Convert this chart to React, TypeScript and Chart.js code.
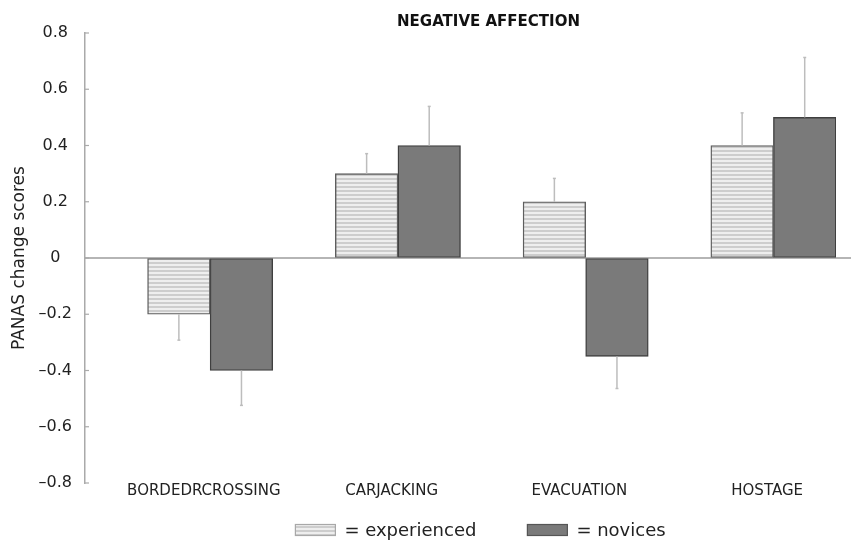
import { useEffect, useRef } from 'react';
import { Chart, registerables } from 'chart.js';

Chart.register(...registerables);

const FONT = 'DejaVu Sans';

const categories = ['BORDEDRCROSSING', 'CARJACKING', 'EVACUATION', 'HOSTAGE'];
const seriesNames = ['= experienced', '= novices'];
const experienced = [-0.2, 0.3, 0.2, 0.4];
const novices = [-0.4, 0.4, -0.35, 0.5];
const experiencedErr = [0.092, 0.071, 0.083, 0.116];
const novicesErr = [0.124, 0.139, 0.114, 0.213];
const yMin = -0.8;
const yMax = 0.8;
const yStep = 0.2;
const titleText = 'NEGATIVE AFFECTION';
const yTitle = 'PANAS change scores';

const fmtTick = (v: number) => {
  const r = Math.round(v * 10) / 10;
  if (r === 0) return '0';
  return r < 0 ? '\u2013' + Math.abs(r).toFixed(1) : r.toFixed(1);
};

const decorPlugin = {
  id: 'decor',
  afterLayout(chart: any) {
    const t = chart.titleBlock;
    if (t) {
      t.left += 28;
      t.right += 28;
    }
  },
  beforeDatasetsDraw(chart: any) {
    const { ctx, chartArea, scales } = chart;
    const y = scales.y;
    const y0 = y.getPixelForValue(0);
    ctx.save();
    ctx.strokeStyle = '#9c9c9c';
    ctx.lineWidth = 1.5;
    ctx.beginPath();
    ctx.moveTo(chartArea.left, y0);
    ctx.lineTo(chart.width, y0);
    ctx.stroke();
    ctx.strokeStyle = '#aaaaaa';
    ctx.lineWidth = 1.2;
    y.ticks.forEach((t: any) => {
      const py = y.getPixelForValue(t.value);
      ctx.beginPath();
      ctx.moveTo(chartArea.left, py);
      ctx.lineTo(chartArea.left + 4, py);
      ctx.stroke();
    });
    ctx.restore();
  },
  afterDatasetsDraw(chart: any) {
    const { ctx, scales } = chart;
    const y = scales.y;
    ctx.save();
    ctx.strokeStyle = '#bdbdbd';
    ctx.lineWidth = 1.5;
    chart.data.datasets.forEach((ds: any, i: number) => {
      if (!ds.errors) return;
      const meta = chart.getDatasetMeta(i);
      meta.data.forEach((el: any, j: number) => {
        const v = ds.data[j];
        if (v === null || v === undefined) return;
        const e = ds.errors[j];
        const end = y.getPixelForValue(v + Math.sign(v) * e);
        ctx.beginPath();
        ctx.moveTo(el.x, el.y);
        ctx.lineTo(el.x, end);
        ctx.stroke();
        ctx.beginPath();
        ctx.moveTo(el.x - 1.5, end);
        ctx.lineTo(el.x + 1.5, end);
        ctx.stroke();
      });
    });
    ctx.restore();
  },
  afterDraw(chart: any) {
    const { ctx, chartArea } = chart;
    ctx.save();
    ctx.font = `18px "${FONT}"`;
    const items = chart.data.datasets.filter((d: any) => d.label);
    const boxW = 40;
    const boxH = 11;
    const gap = 9;
    const spacing = 51;
    const widths = items.map((d: any) => boxW + gap + ctx.measureText(d.label).width);
    const total = widths.reduce((a: number, b: number) => a + b, 0) + spacing * (items.length - 1);
    let x = (chartArea.left + chartArea.right) / 2 + 20 - total / 2;
    const cy = chart.height - 10;
    items.forEach((d: any, i: number) => {
      ctx.fillStyle = d.backgroundColor;
      ctx.fillRect(x, cy - boxH / 2, boxW, boxH);
      ctx.strokeStyle = d.legendBorder;
      ctx.lineWidth = 1.2;
      ctx.strokeRect(x, cy - boxH / 2, boxW, boxH);
      ctx.fillStyle = '#222';
      ctx.textBaseline = 'middle';
      ctx.textAlign = 'left';
      ctx.fillText(d.label, x + boxW + gap, cy + 1);
      x += widths[i] + spacing;
    });
    ctx.restore();
  },
};

export default function App() {
  const canvasRef = useRef<HTMLCanvasElement>(null);

  useEffect(() => {
    document.body.style.margin = '0';
    const canvas = canvasRef.current;
    if (!canvas) return;
    const ctx = canvas.getContext('2d');
    if (!ctx) return;

    const pc = document.createElement('canvas');
    pc.width = 4;
    pc.height = 4;
    const pctx = pc.getContext('2d')!;
    pctx.fillStyle = '#eeeeee';
    pctx.fillRect(0, 0, 4, 2);
    pctx.fillStyle = '#cdcdcd';
    pctx.fillRect(0, 2, 4, 2);
    const stripes = ctx.createPattern(pc, 'repeat');

    Chart.defaults.font.family = FONT;

    const chart = new Chart(ctx, {
      type: 'bar',
      data: {
        labels: categories,
        datasets: [
          {
            label: '',
            data: categories.map(() => null),
            backgroundColor: 'rgba(0,0,0,0)',
          } as any,
          {
            label: seriesNames[0],
            data: experienced,
            errors: experiencedErr,
            backgroundColor: stripes,
            borderColor: '#5e5e5e',
            legendBorder: '#a8a8a8',
            borderWidth: 1.4,
            borderSkipped: false,
          } as any,
          {
            label: seriesNames[1],
            data: novices,
            errors: novicesErr,
            backgroundColor: '#7a7a7a',
            borderColor: '#3f3f3f',
            legendBorder: '#555555',
            borderWidth: 1.4,
            borderSkipped: false,
          } as any,
        ],
      },
      options: {
        animation: false,
        responsive: true,
        maintainAspectRatio: false,
        layout: { padding: { left: 0, right: 15, top: 0, bottom: 40 } },
        datasets: { bar: { categoryPercentage: 1, barPercentage: 1 } },
        plugins: {
          legend: { display: false },
          tooltip: { enabled: false },
          title: {
            display: true,
            text: titleText,
            fullSize: false,
            color: '#111',
            font: { family: FONT, size: 15, weight: 'bold', lineHeight: 1.2 },
            padding: { top: 13, bottom: 2 },
          },
        },
        scales: {
          x: {
            grid: { display: false, drawTicks: false },
            border: { display: false },
            ticks: {
              color: '#222',
              font: { family: FONT, size: 15, lineHeight: 1 },
              padding: 1,
              labelOffset: 25,
              maxRotation: 0,
              autoSkip: false,
            },
          },
          y: {
            min: yMin,
            max: yMax,
            grid: { color: 'rgba(0,0,0,0)', drawTicks: false },
            border: { display: true, color: '#aaaaaa', width: 1.5 },
            ticks: {
              stepSize: yStep,
              color: '#222',
              font: { family: FONT, size: 16 },
              padding: 13,
              crossAlign: 'center',
              callback: (v: any) => fmtTick(Number(v)),
            },
            title: {
              display: true,
              text: yTitle,
              color: '#222',
              font: { family: FONT, size: 17 },
              padding: { top: 9, bottom: 0 },
            },
            afterFit: (s: any) => {
              s.width = 85;
            },
          },
        },
      } as any,
      plugins: [decorPlugin],
    });

    return () => chart.destroy();
  }, []);

  return (
    <div style={{ width: 851, height: 540, position: 'relative' }}>
      <canvas ref={canvasRef} />
    </div>
  );
}
